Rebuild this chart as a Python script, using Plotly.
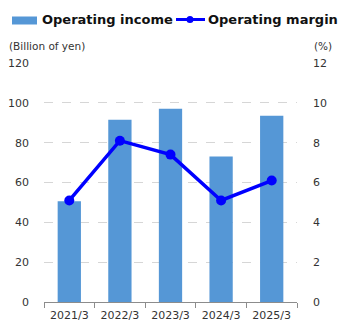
import plotly.graph_objects as go

categories = ["2021/3", "2022/3", "2023/3", "2024/3", "2025/3"]
operating_income = [50.6, 91.5, 97.0, 73.0, 93.5]
operating_margin = [5.1, 8.1, 7.4, 5.1, 6.1]
left_ticks = [0, 20, 40, 60, 80, 100, 120]
right_ticks = [0, 2, 4, 6, 8, 10, 12]

W, H = 345, 330
L, R, T, B = 44, 48, 63, 28
pw, ph = W - L - R, H - T - B

def px(x):
    return (x - L) / pw

def py(y):
    return (H - B - y) / ph

fig = go.Figure()
fig.add_trace(go.Bar(
    x=categories, y=operating_income, name="Operating income",
    marker=dict(color="#5597d6", line=dict(width=0)), width=0.46,
    yaxis="y", showlegend=False,
))
fig.add_trace(go.Scatter(
    x=categories, y=operating_margin, name="Operating margin",
    mode="lines+markers", line=dict(color="#0000ff", width=3.5),
    marker=dict(color="#0000ff", size=10), yaxis="y2", showlegend=False,
))

font = "DejaVu Sans"
tick_font = dict(family=font, size=11, color="#333333")

fig.update_layout(
    width=W, height=H,
    margin=dict(l=L, r=R, t=T, b=B, pad=0),
    paper_bgcolor="white", plot_bgcolor="white",
    bargap=0.54,
    xaxis=dict(
        automargin=False,
        showgrid=False, showline=True, linecolor="#8c8c8c", linewidth=1,
        ticks="outside", tickson="boundaries", ticklen=5, tickcolor="#8c8c8c",
        tickfont=tick_font, ticklabelstandoff=3,
    ),
    yaxis=dict(
        automargin=False,
        range=[0, 120], tickvals=left_ticks, showline=False, zeroline=False,
        showgrid=True, gridcolor="#d6d6d6", griddash="dash", gridwidth=1,
        tickfont=tick_font, ticklabelstandoff=14,
    ),
    yaxis2=dict(
        automargin=False,
        range=[0, 12], tickvals=right_ticks, overlaying="y", side="right",
        showline=False, zeroline=False, showgrid=False,
        tickfont=tick_font, ticklabelstandoff=15,
    ),
    shapes=[
        dict(type="rect", xref="paper", yref="paper",
             x0=px(12), x1=px(37), y0=py(24.5), y1=py(16.5),
             fillcolor="#5597d6", line=dict(width=0)),
        dict(type="line", xref="paper", yref="paper",
             x0=px(176), x1=px(205), y0=py(19.5), y1=py(19.5),
             line=dict(color="#0000ff", width=3)),
        dict(type="circle", xref="paper", yref="paper",
             x0=px(186.5), x1=px(193.5), y0=py(23), y1=py(16),
             fillcolor="#0000ff", line=dict(width=0)),
    ],
    annotations=[
        dict(text="<b>Operating income</b>", xref="paper", yref="paper",
             x=px(40), y=py(19.5), xanchor="left", yanchor="middle",
             showarrow=False, font=dict(family=font, size=13, color="#111111")),
        dict(text="<b>Operating margin</b>", xref="paper", yref="paper",
             x=px(206), y=py(19.5), xanchor="left", yanchor="middle",
             showarrow=False, font=dict(family=font, size=13, color="#111111")),
        dict(text="(Billion of yen)", xref="paper", yref="paper",
             x=px(7), y=py(46), xanchor="left", yanchor="middle",
             showarrow=False, font=dict(family=font, size=10.5, color="#333333")),
        dict(text="(%)", xref="paper", yref="paper",
             x=px(334), y=py(46), xanchor="right", yanchor="middle",
             showarrow=False, font=dict(family=font, size=10.5, color="#333333")),
    ],
)

fig.write_html("out.html")
